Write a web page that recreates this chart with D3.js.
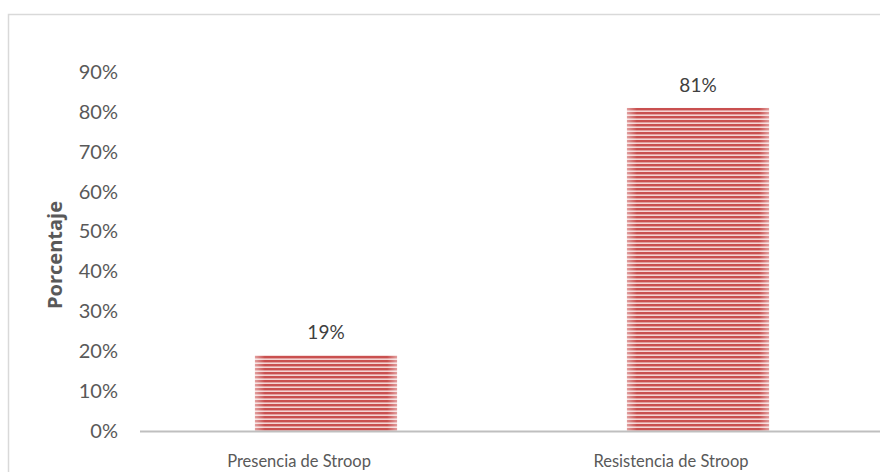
<!DOCTYPE html>
<meta charset="utf-8">
<head>
  <style>
    body { margin: 0; background: #fff; }
    .tick-text { fill: #595959; font-size: 20px; font-family: Lato, "Open Sans", sans-serif; }
    .cat-text { fill: #595959; font-size: 16.5px; font-family: Lato, "Open Sans", sans-serif; }
    .value-text { fill: #404040; font-size: 19px; font-family: Lato, "Open Sans", sans-serif; }
    .axis-title { fill: #595959; font-size: 20px; font-weight: bold; font-family: "Open Sans", sans-serif; }
  </style>
  <script src="https://cdn.jsdelivr.net/npm/d3@7"></script>
</head>
<body>
  <div id="viz"></div>
</body>
<script>
var categories = ["Presencia de Stroop", "Resistencia de Stroop"];
var values = [0.19, 0.81];
var yTicks = [0, 0.1, 0.2, 0.3, 0.4, 0.5, 0.6, 0.7, 0.8, 0.9];
var yTitle = "Porcentaje";

var width = 880, height = 472;
var fmt = d3.format(".0%");

var svg = d3.select("#viz")
  .append("svg")
    .attr("width", width)
    .attr("height", height);

// chart area border (runs off the right/bottom edge in the original)
svg.append("rect")
  .attr("x", 8.5).attr("y", 14.5)
  .attr("width", 920).attr("height", 520)
  .attr("fill", "#fff")
  .attr("stroke", "#d9d9d9")
  .attr("stroke-width", 1.5);

var defs = svg.append("defs");
var pat = defs.append("pattern")
  .attr("id", "stripes")
  .attr("patternUnits", "userSpaceOnUse")
  .attr("width", 8).attr("height", 4);
pat.append("rect").attr("width", 8).attr("height", 4).attr("fill", "#f4d4d3");
pat.append("rect").attr("width", 8).attr("height", 2.4).attr("fill", "#c9504f");

var fade = defs.append("linearGradient").attr("id", "fade");
fade.append("stop").attr("offset", "0%").attr("stop-color", "#fff").attr("stop-opacity", 0.45);
fade.append("stop").attr("offset", "7%").attr("stop-color", "#fff").attr("stop-opacity", 0);
fade.append("stop").attr("offset", "93%").attr("stop-color", "#fff").attr("stop-opacity", 0);
fade.append("stop").attr("offset", "100%").attr("stop-color", "#fff").attr("stop-opacity", 0.45);

var y = d3.scaleLinear().domain([0, 0.9]).range([431, 72]);
var x = d3.scaleBand().domain(categories).range([140, 884])
  .paddingInner(0.618).paddingOuter(0.309);

// y tick labels (no gridlines, no axis line)
var yAxis = svg.append("g")
  .attr("transform", "translate(118,0)")
  .call(d3.axisLeft(y).tickValues(yTicks).tickFormat(fmt).tickSize(0).tickPadding(0));
yAxis.select(".domain").remove();
yAxis.selectAll("text").attr("class", "tick-text").attr("fill", null);

// bars
svg.selectAll(".bar")
  .data(values)
  .enter()
  .append("rect")
    .attr("class", "bar")
    .attr("x", function(d, i) { return x(categories[i]); })
    .attr("y", function(d) { return y(d); })
    .attr("width", x.bandwidth())
    .attr("height", function(d) { return y(0) - y(d); })
    .attr("fill", "url(#stripes)");

svg.selectAll(".bar-fade")
  .data(values)
  .enter()
  .append("rect")
    .attr("x", function(d, i) { return x(categories[i]); })
    .attr("y", function(d) { return y(d); })
    .attr("width", x.bandwidth())
    .attr("height", function(d) { return y(0) - y(d); })
    .attr("fill", "url(#fade)");

// value labels
svg.selectAll(".value-text")
  .data(values)
  .enter()
  .append("text")
    .attr("class", "value-text")
    .attr("x", function(d, i) { return x(categories[i]) + x.bandwidth() / 2; })
    .attr("y", function(d) { return y(d) - 16; })
    .attr("text-anchor", "middle")
    .text(function(d) { return fmt(d); });

// x axis
var xAxis = svg.append("g")
  .attr("transform", "translate(0,431.5)")
  .call(d3.axisBottom(x).tickSize(0).tickPadding(24));
xAxis.select(".domain").remove();
xAxis.selectAll("text").attr("class", "cat-text").attr("fill", null).attr("dx", -27);
xAxis.append("line")
  .attr("x1", 140).attr("x2", width)
  .attr("stroke", "#bfbfbf").attr("stroke-width", 2);

// y axis title
svg.append("text")
  .attr("class", "axis-title")
  .attr("transform", "translate(62,255) rotate(-90)")
  .attr("text-anchor", "middle")
  .text(yTitle);
</script>
